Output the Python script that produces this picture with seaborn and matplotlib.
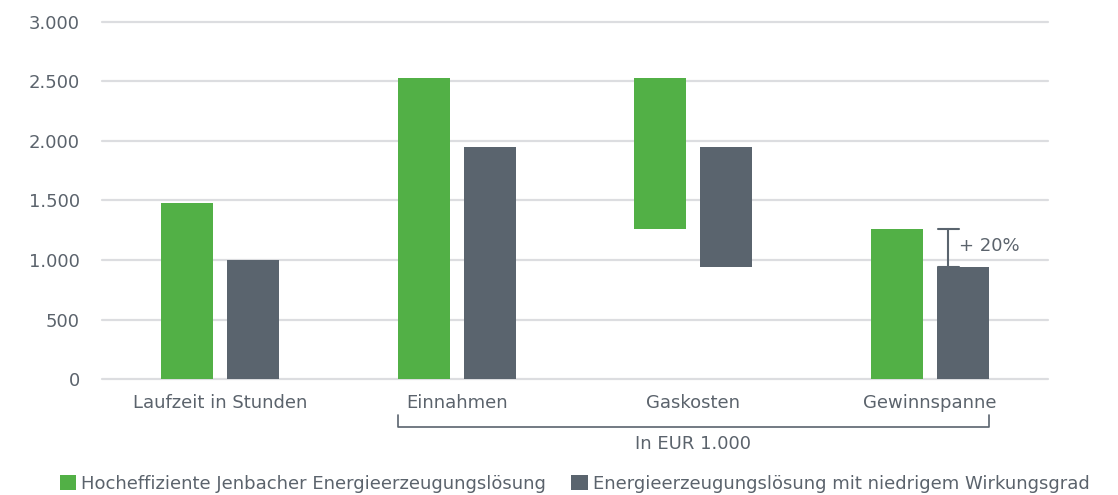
import pandas as pd
import matplotlib.pyplot as plt
import matplotlib.transforms as mtransforms
from matplotlib.patches import Patch
import seaborn as sns

# ====== DATA

categories = ['Laufzeit in Stunden', 'Einnahmen', 'Gaskosten', 'Gewinnspanne']
series = ['Hocheffiziente Jenbacher Energieerzeugungslösung',
          'Energieerzeugungslösung mit niedrigem Wirkungsgrad']
green_top = [1480, 2530, 2530, 1260]
green_bottom = [0, 0, 1260, 0]
gray_top = [1000, 1950, 1950, 940]
gray_bottom = [0, 0, 940, 0]
yticks = [0, 500, 1000, 1500, 2000, 2500, 3000]
ytick_labels = ['0', '500', '1.000', '1.500', '2.000', '2.500', '3.000']
margin_label = '+ 20%'
unit_label = 'In EUR 1.000'

GREEN = '#52b046'
GRAY = '#5a646e'
TEXT = '#5b636c'
GRID = '#dcdde0'
FS = 13

df = pd.DataFrame({
    'category': categories * 2,
    'series': [series[0]] * 4 + [series[1]] * 4,
    'top': green_top + gray_top,
    'bottom': green_bottom + gray_bottom,
})
df['height'] = df['top'] - df['bottom']

sns.set_style('white')
plt.rcParams['font.family'] = ['DejaVu Sans']

fig = plt.figure(figsize=(11.18, 4.95), dpi=100)
ax = fig.add_axes([0.0912, 0.2343, 0.8462, 0.7213])

sns.barplot(data=df, x='category', y='height', hue='series', order=categories,
            hue_order=series, palette=[GREEN, GRAY], width=0.56, gap=0.214,
            saturation=1, legend=False, ax=ax)

# floating bars: shift each bar up to its bottom value (patches are hue-major)
for patch, bottom in zip(ax.patches, df['bottom']):
    patch.set_y(bottom)
    patch.set_linewidth(0)

ax.set_xlim(-0.5, 3.5)
ax.set_ylim(0, 3000)
ax.set_yticks(yticks)
ax.set_yticklabels(ytick_labels)
ax.set_xlabel('')
ax.set_ylabel('')
ax.grid(axis='y', color=GRID, linewidth=1.6)
for gl in ax.get_ygridlines():
    gl.set_clip_on(False)
ax.set_axisbelow(True)
sns.despine(ax=ax, left=True, bottom=True)
ax.tick_params(axis='y', length=0, pad=16, labelsize=FS, labelcolor=TEXT)
ax.tick_params(axis='x', length=0, pad=11, labelsize=FS, labelcolor=TEXT)

# "+ 20%" marker on the low-efficiency margin bar
xm = 3 + 0.078
ax.plot([xm, xm], [gray_top[3], green_top[3]], color=GRAY, lw=1.5)
for yv in [gray_top[3], green_top[3]]:
    ax.plot([xm - 0.045, xm + 0.045], [yv, yv], color=GRAY, lw=1.5)
ax.text(xm + 0.045, 1120, margin_label, color=TEXT, fontsize=FS, va='center', ha='left')

# bracket under the EUR categories
trans = mtransforms.blended_transform_factory(ax.transData, fig.transFigure)
bx0, bx1 = 1 - 0.25, 3 + 0.25
y_low, y_high = 1 - 427 / 495, 1 - 415 / 495
ax.plot([bx0, bx0, bx1, bx1], [y_high, y_low, y_low, y_high], color=GRAY, lw=1.2,
        transform=trans, clip_on=False)
ax.text(2, 1 - 444 / 495, unit_label, transform=trans, ha='center', va='center',
        color=TEXT, fontsize=FS)

handles = [Patch(facecolor=GREEN, edgecolor='none'), Patch(facecolor=GRAY, edgecolor='none')]
leg = fig.legend(handles, series, loc='center', bbox_to_anchor=(0.514, 1 - 484 / 495),
                 ncol=2, frameon=False, handlelength=0.9, handleheight=0.9,
                 handletextpad=0.3, columnspacing=1.4, fontsize=FS)
for t in leg.get_texts():
    t.set_color(TEXT)

fig.savefig('out.png', dpi=100)
plt.close()
